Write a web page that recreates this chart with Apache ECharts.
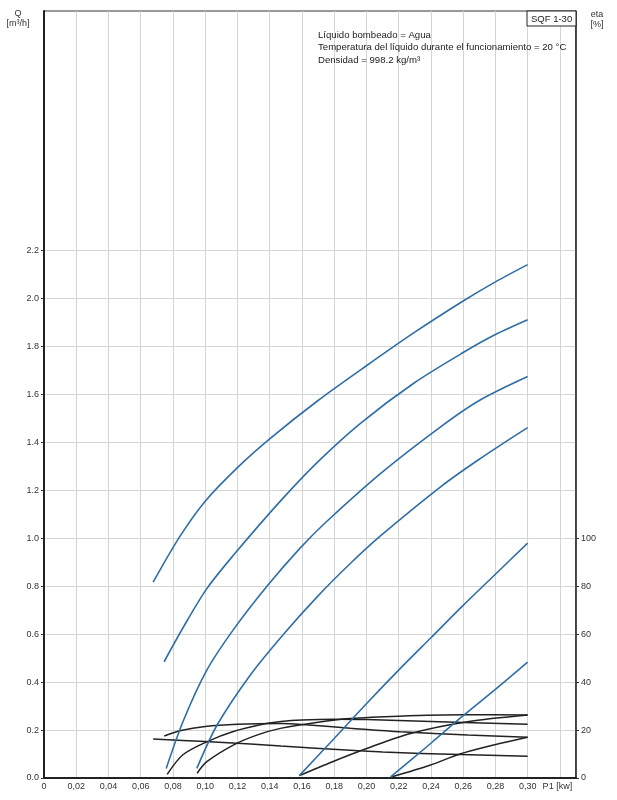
<!DOCTYPE html>
<html><head><meta charset="utf-8">
<script src="https://cdn.jsdelivr.net/npm/echarts@6/dist/echarts.min.js"></script>
<style>html,body{margin:0;padding:0;background:#fff}#c{width:617px;height:800px}</style>
</head><body><div id="c"></div>
<script>
// ---- data (P1 [kW], Q [m3/h]) ----
const headLabels = ['5', '10', '15', '20', '30', '40 m'];
const q5  = [[0.0677,0.817],[0.0845,1.01],[0.10,1.155],[0.12,1.295],[0.14,1.415],[0.17,1.575],[0.20,1.72],[0.23,1.86],[0.26,1.99],[0.28,2.07],[0.30,2.142]];
const q10 = [[0.0745,0.485],[0.0865,0.63],[0.101,0.79],[0.1176,0.93],[0.1466,1.155],[0.17,1.32],[0.1963,1.48],[0.23,1.65],[0.26,1.775],[0.28,1.85],[0.30,1.912]];
const q15 = [[0.0758,0.04],[0.0865,0.24],[0.101,0.45],[0.1176,0.62],[0.1383,0.80],[0.159,0.96],[0.1745,1.065],[0.2087,1.27],[0.246,1.465],[0.27,1.575],[0.30,1.675]];
const q20 = [[0.0948,0.04],[0.1073,0.22],[0.128,0.43],[0.1486,0.60],[0.17,0.76],[0.19,0.895],[0.2087,1.01],[0.246,1.215],[0.27,1.33],[0.30,1.462]];
const q30 = [[0.1584,0.01],[0.18,0.165],[0.20,0.31],[0.22,0.45],[0.24,0.585],[0.26,0.72],[0.28,0.85],[0.30,0.98]];
const q40 = [[0.215,0.005],[0.24,0.145],[0.26,0.26],[0.28,0.37],[0.30,0.483]];
// ---- data (P1 [kW], eta [%]) ----
const eta5  = [[0.0677,16.3],[0.10,15.2],[0.128,14.2],[0.147,13.3],[0.19,11.6],[0.21,10.8],[0.258,9.8],[0.30,9.1]];
const eta10 = [[0.0746,17.5],[0.085,19.8],[0.10,21.5],[0.12,22.4],[0.147,22.7],[0.16,22.3],[0.19,20.8],[0.221,19.3],[0.263,17.9],[0.30,17.0]];
const eta15 = [[0.0764,1.5],[0.086,9.6],[0.101,15.1],[0.117,19.3],[0.1385,22.8],[0.147,23.6],[0.16,24.2],[0.18,24.5],[0.20,24.4],[0.24,23.6],[0.30,22.4]];
const eta20 = [[0.095,2.0],[0.101,6.8],[0.1174,13.75],[0.132,17.9],[0.1466,20.7],[0.17,23.3],[0.19,24.8],[0.22,25.8],[0.26,26.4],[0.30,26.3]];
const eta30 = [[0.1584,1.0],[0.179,6.8],[0.2006,12.4],[0.2273,18.6],[0.2627,23.5],[0.30,26.3]];
const eta40 = [[0.216,0.5],[0.2398,5.4],[0.258,10.0],[0.279,13.75],[0.30,17.0]];
// ---- tick labels ----
const xTickValues = [0,0.02,0.04,0.06,0.08,0.10,0.12,0.14,0.16,0.18,0.20,0.22,0.24,0.26,0.28,0.30,0.32];
const qTickValues = [0,0.2,0.4,0.6,0.8,1.0,1.2,1.4,1.6,1.8,2.0,2.2];
const etaTickValues = [0,20,40,60,80,100];
const infoLines = ['Líquido bombeado = Agua','Temperatura del líquido durante el funcionamiento = 20 °C','Densidad = 998.2 kg/m³'];

const FONT = 'Liberation Sans, Arial, sans-serif';
const BLUE = '#2f6ea6';
const DARK = '#222';

function qSeries(data, label) {
  const d = data.map((p, i) => i === data.length - 1
    ? { value: p, label: { show: true, position: 'top', distance: 3, formatter: label, color: '#333', fontSize: 9, fontFamily: FONT } }
    : { value: p });
  return { type: 'line', yAxisIndex: 0, data: d, smooth: 0.3, showSymbol: false, symbol: 'none',
    lineStyle: { color: BLUE, width: 1.6 }, silent: true, z: 3 };
}
function etaSeries(data) {
  return { type: 'line', yAxisIndex: 1, data: data, smooth: 0.3, showSymbol: false, symbol: 'none',
    lineStyle: { color: DARK, width: 1.5 }, silent: true, z: 2 };
}
const qAll = [q5, q10, q15, q20, q30, q40];
const etaAll = [eta5, eta10, eta15, eta20, eta30, eta40];

const chart = echarts.init(document.getElementById('c'), null, { renderer: 'canvas' });
chart.setOption({
  animation: false,
  backgroundColor: '#fff',
  grid: { left: 44, right: 41, top: 11, bottom: 22, show: true, borderColor: '#333', borderWidth: 1 },
  xAxis: {
    type: 'value', min: 0, max: 0.33, interval: 0.02,
    axisLine: { show: true, onZero: false, lineStyle: { color: '#222', width: 2 } },
    axisTick: { show: false },
    splitLine: { show: true, lineStyle: { color: '#d4d4d4', width: 1 } },
    axisLabel: {
      customValues: xTickValues, color: '#333', fontSize: 9, fontFamily: FONT, margin: 4,
      formatter: v => v > 0.31 ? 'P1 [kw]  ' : (v === 0 ? '0' : v.toFixed(2).replace('.', ','))
    }
  },
  yAxis: [
    {
      type: 'value', min: 0, max: 3.2, interval: 0.2, position: 'left',
      axisLine: { show: true, onZero: false, lineStyle: { color: '#222', width: 2 } },
      axisTick: { show: true, customValues: qTickValues, length: 3, lineStyle: { color: '#333' } },
      splitLine: { show: true, lineStyle: { color: '#d4d4d4', width: 1 } },
      axisLabel: { customValues: qTickValues, color: '#333', fontSize: 9, fontFamily: FONT, margin: 5,
        formatter: v => v.toFixed(1) }
    },
    {
      type: 'value', min: 0, max: 320, interval: 20, position: 'right',
      axisLine: { show: true, onZero: false, lineStyle: { color: '#222', width: 1.5 } },
      axisTick: { show: true, customValues: etaTickValues, length: 3, lineStyle: { color: '#333' } },
      splitLine: { show: false },
      axisLabel: { customValues: etaTickValues, color: '#333', fontSize: 9, fontFamily: FONT, margin: 5,
        formatter: v => String(v) }
    }
  ],
  series: [
    ...etaAll.map(etaSeries),
    ...qAll.map((d, i) => qSeries(d, headLabels[i]))
  ],
  graphic: [
    { type: 'text', x: 18, y: 9, style: { text: 'Q\n[m³/h]', fill: '#333', font: '9px ' + FONT, align: 'center', lineHeight: 10 } },
    { type: 'text', x: 597, y: 10, style: { text: 'eta\n[%]', fill: '#333', font: '9px ' + FONT, align: 'center', lineHeight: 10 } },
    { type: 'rect', shape: { x: 527, y: 11, width: 49, height: 15 }, style: { fill: '#fff', stroke: '#222', lineWidth: 1 }, z: 10 },
    { type: 'text', x: 531, y: 14, style: { text: 'SQF 1-30', fill: '#222', font: '9.5px ' + FONT }, z: 11 },
    { type: 'text', x: 318, y: 29, style: { text: infoLines.join('\n'), fill: '#222', font: '9.6px ' + FONT, lineHeight: 12.5 }, z: 11 }
  ]
});
</script></body></html>
